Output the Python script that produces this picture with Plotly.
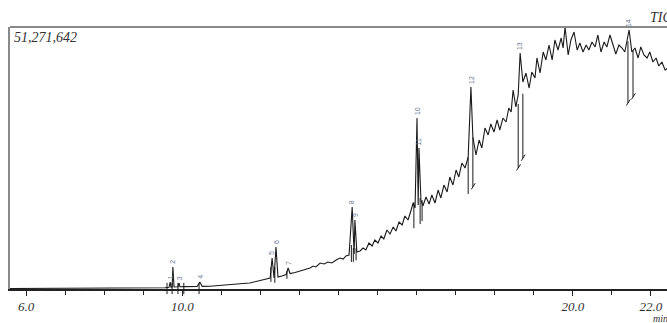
import numpy as np
import plotly.graph_objects as go

# Total ion chromatogram: retention time (min) and intensity (millions of counts)
RT = [5.59, 6.00, 6.49, 7.00, 7.38, 8.00, 8.53, 9.00, 9.43, 9.56,
      9.61, 9.66, 9.69, 9.71, 9.74, 9.76, 9.79, 9.84, 9.89, 9.92,
      9.94, 10.04, 10.20, 10.38, 10.45, 10.51, 10.71, 10.89, 11.09, 11.30,
      11.48, 11.73, 11.94, 12.04, 12.14, 12.25, 12.30, 12.35, 12.40, 12.45,
      12.55, 12.66, 12.71, 12.76, 12.89, 13.01, 13.14, 13.27, 13.35, 13.42,
      13.53, 13.63, 13.73, 13.83, 13.94, 14.04, 14.12, 14.19, 14.27, 14.35,
      14.40, 14.42, 14.47, 14.55, 14.63, 14.70, 14.78, 14.86, 14.93, 15.01,
      15.09, 15.16, 15.24, 15.32, 15.40, 15.47, 15.55, 15.63, 15.70, 15.78,
      15.86, 15.91, 15.96, 16.01, 16.04, 16.06, 16.11, 16.16, 16.24, 16.32,
      16.39, 16.47, 16.55, 16.62, 16.70, 16.78, 16.85, 16.93, 17.01, 17.08,
      17.16, 17.24, 17.32, 17.39, 17.44, 17.52, 17.60, 17.67, 17.75, 17.83,
      17.90, 17.98, 18.06, 18.13, 18.21, 18.29, 18.36, 18.42, 18.47, 18.54,
      18.60, 18.65, 18.72, 18.80, 18.88, 18.95, 19.03, 19.08, 19.16, 19.24,
      19.31, 19.39, 19.47, 19.54, 19.62, 19.70, 19.75, 19.80, 19.88, 19.95,
      20.03, 20.11, 20.18, 20.26, 20.34, 20.41, 20.49, 20.57, 20.64, 20.72,
      20.80, 20.87, 20.95, 21.03, 21.10, 21.18, 21.26, 21.33, 21.44, 21.51,
      21.59, 21.67, 21.74, 21.82, 21.90, 21.97, 22.05, 22.13, 22.20, 22.28,
      22.36, 22.44]
TIC = [0.10, 0.10, 0.14, 0.20, 0.16, 0.14, 0.16, 0.20, 0.23, 0.23,
       0.29, 0.33, 1.37, 0.35, 0.39, 4.31, 0.39, 0.43, 0.43, 1.17,
       0.43, 0.47, 0.47, 0.49, 1.37, 0.51, 0.55, 0.63, 0.78, 0.92,
       1.02, 1.17, 1.57, 1.76, 1.96, 2.15, 6.07, 2.15, 8.22, 2.35,
       2.54, 2.84, 4.11, 3.03, 3.23, 3.52, 3.91, 4.11, 4.50, 4.31,
       5.09, 4.89, 5.28, 5.09, 5.68, 6.07, 5.87, 6.46, 6.65, 16.05,
       6.85, 13.50, 7.24, 7.44, 8.02, 7.63, 9.00, 8.42, 9.59, 9.00,
       10.37, 9.79, 11.55, 10.76, 12.13, 11.35, 13.11, 12.52, 14.29, 13.50,
       15.46, 16.83, 15.85, 33.46, 16.44, 27.59, 17.42, 16.24, 18.00, 16.63,
       18.40, 16.83, 19.37, 17.81, 20.35, 18.98, 21.92, 20.35, 23.29, 21.92,
       24.66, 23.68, 25.83, 39.53, 29.75, 26.22, 29.16, 27.59, 31.51, 30.14,
       32.29, 30.72, 33.07, 31.12, 33.46, 32.68, 35.42, 34.64, 38.94, 35.62,
       37.97, 46.19, 40.51, 42.27, 39.33, 42.47, 41.29, 45.21, 42.27, 46.38,
       44.82, 47.75, 44.82, 48.73, 46.77, 49.12, 47.16, 51.27, 45.79, 48.73,
       50.29, 46.77, 48.14, 46.38, 47.75, 46.77, 48.34, 47.36, 49.71, 46.38,
       48.34, 47.36, 49.71, 47.75, 45.99, 47.75, 47.16, 46.38, 50.69, 46.38,
       47.16, 45.21, 47.36, 45.79, 45.21, 46.38, 44.42, 45.21, 43.64, 44.42,
       42.86, 43.25]

# Integrated peaks: number and apex retention time
PEAK_NO = [1, 2, 3, 4, 5, 6, 7, 8, 9, 10, 11, 12, 13, 14]
PEAK_RT = [9.69, 9.76, 9.92, 10.45, 12.30, 12.40, 12.71, 14.35, 14.42,
           16.01, 16.06, 17.39, 18.65, 21.44]

# Peak start/end markers: retention time, upper and lower intensity of the stroke
MARK_RT = [9.61, 9.74, 9.89, 10.04, 10.43, 12.27, 12.37, 12.68,
           14.33, 14.38, 14.45, 15.93, 16.09, 16.14,
           17.32, 17.44, 18.60, 18.72, 21.41, 21.54]
MARK_TOP = [1.2, 1.2, 1.2, 1.2, 1.2, 4.3, 4.3, 3.5,
            8.6, 8.0, 8.0, 17.0, 17.8, 17.4,
            25.8, 29.7, 36.2, 38.2, 48.5, 46.6]
MARK_BOTTOM = [-1.0, -1.0, -1.0, -1.0, -1.0, 1.4, 1.2, 2.0,
               5.3, 5.3, 5.6, 11.9, 12.7, 13.3,
               18.6, 20.0, 23.7, 25.6, 36.4, 37.6]

TICK_VALS = [6.0, 10.0, 20.0, 22.0]
TICK_TEXT = ["6.0", "10.0", "20.0", "22.0"]
Y_MAX = 51.271642
Y_MAX_TEXT = "51,271,642"

SERIF = "Liberation Serif, Times New Roman, serif"
FRAME = "#8a8a8a"
INK = "#1a1a1a"

fig = go.Figure()
fig.add_trace(go.Scatter(x=RT, y=TIC, mode="lines",
                         line=dict(color=INK, width=1.1),
                         hoverinfo="skip", showlegend=False))

shapes = []
for t, top, bot in zip(MARK_RT, MARK_TOP, MARK_BOTTOM):
    shapes.append(dict(type="line", xref="x", yref="paper",
                       x0=t, x1=t, y0=top / Y_MAX, y1=bot / Y_MAX,
                       line=dict(color=INK, width=1)))
    if top - bot > 8:
        # small slanted foot on the long integration strokes
        shapes.append(dict(type="line", xref="x", yref="paper",
                           x0=t - 0.04, x1=t + 0.06,
                           y0=(bot - 0.5) / Y_MAX, y1=(bot + 0.7) / Y_MAX,
                           line=dict(color=INK, width=1)))
# frame: top edge
shapes.append(dict(type="line", xref="paper", yref="paper", x0=0, x1=1, y0=1, y1=1,
                   line=dict(color=FRAME, width=2)))

annotations = []
apex = np.interp(PEAK_RT, RT, TIC)
for n, t, a in zip(PEAK_NO, PEAK_RT, apex):
    annotations.append(dict(x=t, y=a, xref="x", yref="y", text=str(n),
                            showarrow=False, textangle=-90,
                            xanchor="center", yanchor="bottom", yshift=1,
                            font=dict(family="Liberation Sans, Arial", size=7, color="#6a7896")))
annotations.append(dict(x=0.003, y=0.995, xref="paper", yref="paper", text=Y_MAX_TEXT,
                        showarrow=False, xanchor="left", yanchor="top",
                        font=dict(family=SERIF, size=14, color="#333", style="italic")))
annotations.append(dict(x=0.971, y=1.0, xref="paper", yref="paper", text="TIC",
                        showarrow=False, xanchor="left", yanchor="bottom", yshift=0,
                        font=dict(family=SERIF, size=14, color="#333", style="italic")))
annotations.append(dict(x=0.976, y=-0.112, xref="paper", yref="paper", text="min",
                        showarrow=False, xanchor="left", yanchor="middle",
                        font=dict(family=SERIF, size=10, color="#333", style="italic")))

fig.update_layout(
    width=667, height=323,
    margin=dict(l=10, r=0, t=27, b=34),
    paper_bgcolor="white", plot_bgcolor="white",
    shapes=shapes, annotations=annotations,
    xaxis=dict(range=[5.59, 22.41], tickmode="array", tickvals=TICK_VALS, ticktext=TICK_TEXT,
               ticks="outside", ticklen=5, tickwidth=1, tickcolor="#222",
               showline=True, linecolor="#222", linewidth=1.5,
               showgrid=False, zeroline=False,
               tickfont=dict(family=SERIF, size=13, color="#333", style="italic"),
               minor=dict(tick0=0, dtick=1, ticks="outside", ticklen=4, tickcolor="#222",
                          showgrid=False)),
    yaxis=dict(range=[0, Y_MAX], showticklabels=False, ticks="",
               showline=True, linecolor=FRAME, linewidth=2,
               showgrid=False, zeroline=False),
)

fig.write_html("out.html")
